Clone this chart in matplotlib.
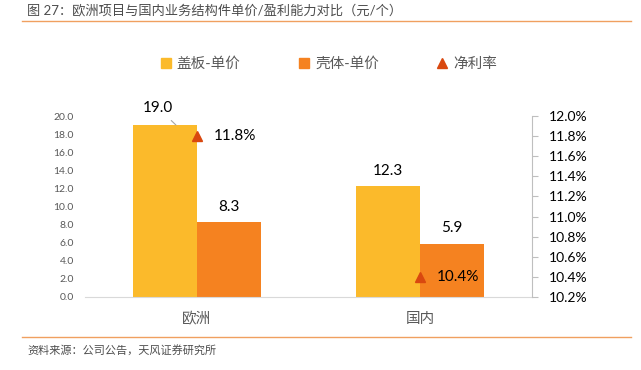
import matplotlib
matplotlib.use("Agg")
import matplotlib.pyplot as plt
import numpy as np
from matplotlib.lines import Line2D
from matplotlib.patches import Patch

plt.rcParams["font.family"] = ["Lato", "Noto Sans CJK SC", "DejaVu Sans"]

categories = ["欧洲", "国内"]
cover_price = [19.0, 12.3]
shell_price = [8.3, 5.9]
net_margin = [11.8, 10.4]
left_ticks = np.arange(0, 20.1, 2.0)
right_ticks = np.arange(10.2, 12.01, 0.2)

GOLD = "#FBBA2B"
ORANGE = "#F58220"
RED = "#D9480F"
GREY = "#595959"

W, H = 641, 370
fig = plt.figure(figsize=(W / 100, H / 100), dpi=100)
ax = fig.add_axes([85 / W, 1 - 297 / H, (532 - 85) / W, (297 - 116) / H])
ax2 = ax.twinx()

x = np.arange(len(categories))
bw = 0.286
ax.bar(x - bw / 2, cover_price, bw, color=GOLD)
ax.bar(x + bw / 2, shell_price, bw, color=ORANGE)
ax.set_xlim(-0.5, 1.5)
ax.set_ylim(0, 20)
ax.set_yticks(left_ticks)
ax.set_yticklabels([f"{v:.1f}" for v in left_ticks])
ax.set_xticks(x)
ax.set_xticklabels(categories, color=GREY, fontsize=10.5)
ax.tick_params(axis="y", length=0, labelsize=7.5, labelcolor=GREY, pad=8)
ax.tick_params(axis="x", length=0, pad=11)
for s in ["top", "left", "right"]:
    ax.spines[s].set_visible(False)
ax.spines["bottom"].set_color("#D9D9D9")

# value labels
for i, (a, b) in enumerate(zip(cover_price, shell_price)):
    if i == 0:
        ax.annotate(f"{a:.1f}", xy=(x[i] - bw / 2 + 0.05, a), xytext=(x[i] - bw / 2 - 0.03, a + 1.9),
                    ha="center", va="center", fontsize=11,
                    arrowprops=dict(arrowstyle="-", color="#A6A6A6", lw=0.8, shrinkA=3, shrinkB=0))
    else:
        ax.text(x[i] - bw / 2, a + 0.9, f"{a:.1f}", ha="center", va="bottom", fontsize=11)
    ax.text(x[i] + bw / 2, b + 0.9, f"{b:.1f}", ha="center", va="bottom", fontsize=11)

ax2.plot(x, net_margin, linestyle="none", marker="^", color=RED, markersize=7)
for i, v in enumerate(net_margin):
    ax2.annotate(f"{v:.1f}%", xy=(x[i], v), xytext=(12, 0), textcoords="offset points",
                 ha="left", va="center", fontsize=11)
ax2.set_ylim(10.2, 12.0)
ax2.set_yticks(right_ticks)
ax2.set_yticklabels([f"{v:.1f}%" for v in right_ticks])
ax2.tick_params(axis="y", length=4, color="#BFBFBF", labelsize=10, pad=8)
for s in ["top", "left", "bottom"]:
    ax2.spines[s].set_visible(False)
ax2.spines["right"].set_color("#BFBFBF")

handles = [Patch(color=GOLD, label="盖板-单价"),
           Patch(color=ORANGE, label="壳体-单价"),
           Line2D([], [], linestyle="none", marker="^", color=RED, markersize=7, label="净利率")]
leg = fig.legend(handles=handles, loc="center", bbox_to_anchor=(329 / W, 1 - 64 / H), ncol=3,
                 frameon=False, fontsize=10.5, handlelength=0.7, handleheight=0.7,
                 handletextpad=0.4, columnspacing=4)
for t in leg.get_texts():
    t.set_color(GREY)

# header / footer
fig.text(27 / W, 1 - 10 / H, "图 27：欧洲项目与国内业务结构件单价/盈利能力对比（元/个）",
         fontsize=9.5, color="#4D4D4D", va="center", ha="left")
fig.add_artist(Line2D([22 / W, 631 / W], [1 - 21 / H] * 2, color="#F0A060", lw=1))
fig.add_artist(Line2D([22 / W, 631 / W], [1 - 337 / H] * 2, color="#F0A060", lw=1))
fig.text(27 / W, 1 - 350 / H, "资料来源：公司公告，天风证券研究所",
         fontsize=8, color="#4D4D4D", va="center", ha="left")

fig.savefig("out.png", dpi=100, facecolor="white")
